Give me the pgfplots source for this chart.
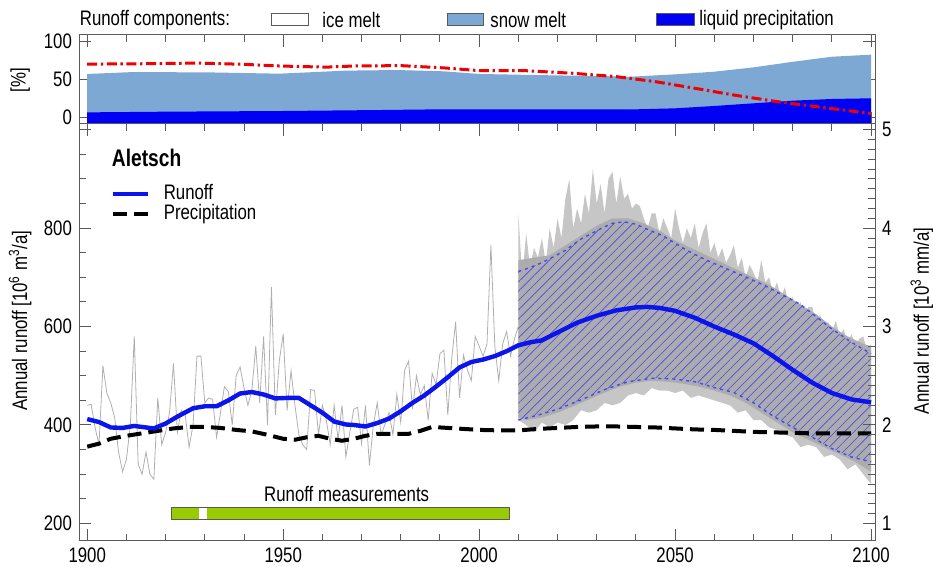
\documentclass[border=0pt]{standalone}
\usepackage{fontspec}
\setmainfont{Liberation Sans}[FakeStretch=0.8]
\usepackage{pgfplots}
\pgfplotsset{compat=1.18}
\usetikzlibrary{patterns.meta}

\definecolor{axcol}{RGB}{90,90,90}
\definecolor{snowblue}{RGB}{125,168,212}
\definecolor{liqblue}{RGB}{0,0,245}
\definecolor{redline}{RGB}{240,0,0}
\definecolor{runblue}{RGB}{10,20,235}
\definecolor{hatchblue}{RGB}{70,70,255}
\definecolor{mgreen}{RGB}{153,204,0}
\definecolor{ensout}{RGB}{198,198,198}
\definecolor{ensin}{RGB}{172,172,172}
\definecolor{histgray}{RGB}{175,175,175}

\pgfplotsset{
  base/.style={
    scale only axis, width=398pt, xmin=1897.9, xmax=2101,
    axis line style={axcol, line width=0.5pt},
    tick style={axcol, line width=0.5pt},
    major tick length=6pt, minor tick length=3.5pt, tick align=inside,
    font=\fontsize{10.5}{12}\selectfont,
    /pgf/number format/assume math mode=true,
    /pgf/number format/set thousands separator={},
    xtick={1900,1950,...,2100}, minor x tick num=4,
  },
  runoffline/.style={runblue, line width=2.2pt},
  precline/.style={black, line width=2pt, dash pattern=on 7pt off 3.5pt},
}

\begin{document}
\begin{tikzpicture}
\path[use as bounding box] (0,0) rectangle (466.5pt,283.5pt);

% top panel: runoff components
\begin{axis}[base, at={(39.5pt,221.5pt)}, anchor=south west, height=44.5pt,
  ymin=-8.8, ymax=108.3, ytick={0,50,100}, ytick pos=both, yticklabel pos=left,
  xticklabels={},
  ylabel={[\%]}, ylabel style={at={(axis description cs:-0.074,0.494)}, anchor=center}]
  % snow melt (top of snow melt share, measured from 0)
  \addplot[fill=snowblue, draw=none] coordinates {
    (1900,-8.8) (1900,57) (1912,59.6) (1932,59) (1949,57.4) (1966,61.4) (1979,62.2)
    (1991,60.5) (2000,57) (2019,55.2) (2039,53.5) (2050,56.5) (2060,60) (2070,65.7)
    (2080,73) (2090,79.7) (2100,82.4) (2100,-8.8)} -- cycle;
  % liquid precipitation
  \addplot[fill=liqblue, draw=none] coordinates {
    (1900,-8.8) (1900,6.5) (1920,7.4) (1950,8.3) (1975,9.6) (1990,10.5) (2040,10.5)
    (2050,11.8) (2060,14.9) (2070,18.4) (2080,21.9) (2090,24.1) (2100,25) (2100,-8.8)} -- cycle;
  % red dash-dot line
  \addplot[redline, line width=1.5pt, dash pattern=on 5pt off 1.8pt on 1.2pt off 1.8pt] coordinates {
    (1900,70) (1915,70.5) (1928,71.4) (1940,69.7) (1949,67.5) (1961,66) (1968,67.5)
    (1980,68) (1991,65) (2000,61.4) (2012,61.3) (2024,57.9) (2035,53.5) (2045,46.9)
    (2055,38.2) (2065,29.3) (2075,21.4) (2086,14) (2100,5)};
\end{axis}

% main panel
\begin{axis}[base, at={(39.5pt,13pt)}, anchor=south west, height=208.5pt,
  ymin=164.2, ymax=1011.8, ytick={200,400,600,800,1000}, yticklabels={200,400,600,800,{}},
  minor y tick num=3, ytick pos=left, xticklabel pos=bottom,
  ylabel={Annual runoff [10\textsuperscript{6} m\textsuperscript{3}/a]},
  ylabel style={at={(axis description cs:-0.074,0.528)}, anchor=center},
  legend cell align=left,
  legend image code/.code={\draw[#1] (0pt,0pt) -- (17.5pt,0pt);},
  legend style={at={(axis description cs:0.039,0.854)}, anchor=north west,
    draw=none, fill=none, inner sep=0pt, row sep=1.5pt,
    nodes={inner sep=0pt, text height=7pt, text depth=1.5pt},
    /tikz/every odd column/.style={column sep=7pt}},
  ]
  % observed / reconstructed annual runoff
  \addplot[histgray, line width=0.4pt, forget plot] coordinates {
    (1900,440) (1901,442) (1902,395) (1903,360) (1904,520) (1905,465) (1906,445) (1907,415)
    (1908,345) (1909,305) (1910,330) (1911,400) (1912,580) (1913,320) (1914,300) (1915,345)
    (1916,300) (1917,290) (1918,455) (1919,360) (1920,385) (1921,425) (1922,525) (1923,385)
    (1924,430) (1925,420) (1926,355) (1927,400) (1928,540) (1929,540) (1930,445) (1931,455)
    (1932,452) (1933,375) (1934,425) (1935,478) (1936,468) (1937,400) (1938,500) (1939,518)
    (1940,475) (1941,440) (1942,470) (1943,560) (1944,445) (1945,580) (1946,400) (1947,680)
    (1948,420) (1949,530) (1950,585) (1951,430) (1952,510) (1953,440) (1954,380) (1955,360)
    (1956,350) (1957,472) (1958,470) (1959,380) (1960,440) (1961,410) (1962,360) (1963,440)
    (1964,370) (1965,440) (1966,335) (1967,385) (1968,432) (1969,436) (1970,362) (1971,440)
    (1972,318) (1973,400) (1974,445) (1975,380) (1976,402) (1977,425) (1978,380) (1979,462)
    (1980,405) (1981,512) (1982,530) (1983,432) (1984,500) (1985,462) (1986,480) (1987,410)
    (1988,505) (1989,482) (1990,545) (1991,552) (1992,420) (1993,535) (1994,610) (1995,455)
    (1996,542) (1997,512) (1998,490) (1999,580) (2000,560) (2001,540) (2002,565) (2003,765)
    (2004,560) (2005,490) (2006,565) (2007,590) (2008,540) (2009,575) (2010,600)};
  % ensemble of projections: outer envelope
  \addplot[fill=ensout, draw=none, forget plot] coordinates {
    (2010,830) (2011,700) (2012,790) (2013,720) (2014,760) (2015,740) (2016,780) (2017,730)
    (2018,800) (2019,760) (2020,820) (2021,780) (2022,860) (2023,900) (2024,800) (2025,840)
    (2026,810) (2027,870) (2028,830) (2029,920) (2030,850) (2031,890) (2032,830) (2033,900)
    (2034,915) (2035,850) (2036,905) (2037,860) (2038,870) (2039,840) (2040,850) (2041,845)
    (2042,820) (2043,800) (2044,830) (2045,830) (2046,790) (2047,820) (2048,800) (2049,780)
    (2050,840) (2051,800) (2052,770) (2053,800) (2054,780) (2055,810) (2056,760) (2057,790)
    (2058,810) (2059,750) (2060,770) (2061,740) (2062,760) (2063,730) (2064,745) (2065,765)
    (2066,720) (2067,740) (2068,700) (2069,725) (2070,710) (2071,690) (2072,735) (2073,690)
    (2074,700) (2075,670) (2076,690) (2077,660) (2078,680) (2079,645) (2080,660) (2081,630)
    (2082,650) (2083,620) (2084,640) (2085,640) (2086,600) (2087,625) (2088,595) (2089,610)
    (2090,590) (2091,612) (2092,580) (2093,595) (2094,565) (2095,585) (2096,560) (2097,575)
    (2098,580) (2099,550) (2100,565)
    (2100,280) (2098,300) (2096,320) (2094,310) (2092,330) (2090,340) (2088,335) (2086,355)
    (2084,360) (2082,355) (2080,375) (2078,380) (2076,390) (2074,395) (2072,410) (2070,410)
    (2068,430) (2066,425) (2064,440) (2062,445) (2060,450) (2058,455) (2056,460) (2054,455)
    (2052,470) (2050,465) (2048,470) (2046,470) (2044,475) (2042,460) (2040,465) (2038,460)
    (2036,445) (2034,440) (2032,445) (2030,430) (2028,425) (2026,430) (2024,410) (2022,400)
    (2020,405) (2018,395) (2016,405) (2014,385) (2012,400) (2010,410)} -- cycle;
  % ensemble: dense core
  \addplot[fill=ensin, draw=none, forget plot] coordinates {
    (2010,735) (2014,740) (2018,745) (2022,765) (2026,785) (2030,805) (2034,820) (2038,820)
    (2042,810) (2046,795) (2050,775) (2054,760) (2058,745) (2062,730) (2066,715) (2070,700)
    (2074,685) (2078,665) (2082,645) (2086,625) (2090,600) (2094,580) (2098,565) (2100,560)
    (2100,305) (2096,325) (2092,340) (2088,355) (2084,370) (2080,385) (2076,405) (2072,425)
    (2068,445) (2064,460) (2060,470) (2056,478) (2052,484) (2048,488) (2044,490) (2040,486)
    (2036,478) (2032,466) (2028,452) (2024,438) (2020,425) (2016,415) (2012,410) (2010,415)} -- cycle;
  % uncertainty band (hatched)
  \addplot[draw=none, pattern={Lines[angle=45,distance=3.3pt,line width=0.3pt]},
    pattern color=hatchblue, forget plot] coordinates {
    (2010,712) (2013,720) (2016,730) (2019,742) (2022,755) (2026,778) (2031,799) (2034,810)
    (2037,813) (2040,808) (2042,801) (2047,784) (2053,755) (2058,735) (2063,718) (2068,701)
    (2073,683) (2078,662) (2082,645) (2086,620) (2090,595) (2095,568) (2100,545)
    (2100,325) (2095,335) (2090,352) (2085,375) (2080,395) (2075,418) (2070,445) (2065,466)
    (2060,476) (2055,488) (2049,494) (2044,495) (2038,488) (2032,472) (2026,451) (2020,432)
    (2015,420) (2010,410)} -- cycle;
  \addplot[hatchblue, line width=0.7pt, dash pattern=on 1.5pt off 2pt, forget plot] coordinates {
    (2010,712) (2013,720) (2016,730) (2019,742) (2022,755) (2026,778) (2031,799) (2034,810)
    (2037,813) (2040,808) (2042,801) (2047,784) (2053,755) (2058,735) (2063,718) (2068,701)
    (2073,683) (2078,662) (2082,645) (2086,620) (2090,595) (2095,568) (2100,545)};
  \addplot[hatchblue, line width=0.7pt, dash pattern=on 1.5pt off 2pt, forget plot] coordinates {
    (2010,410) (2015,420) (2020,432) (2026,451) (2032,472) (2038,488) (2044,495) (2049,494)
    (2055,488) (2060,476) (2065,466) (2070,445) (2075,418) (2080,395) (2085,375) (2090,352)
    (2095,335) (2100,325)};
  % precipitation (right axis units x 200)
  \addplot[precline, forget plot] coordinates {
    (1900,356) (1903,362) (1906,372) (1910,378) (1914,383) (1918,388) (1922,393) (1926,396)
    (1930,396) (1934,394) (1938,390) (1942,387) (1946,380) (1950,372) (1953,370) (1956,375)
    (1959,378) (1962,372) (1965,368) (1968,372) (1971,378) (1974,382) (1978,382) (1982,382)
    (1985,388) (1988,396) (1992,394) (1996,392) (2000,390) (2005,389) (2010,389) (2015,392)
    (2020,394) (2025,396) (2030,397) (2035,397) (2040,396) (2045,395) (2050,393) (2055,391)
    (2060,390) (2065,388) (2070,386) (2075,385) (2080,384) (2085,383) (2090,383) (2095,383)
    (2100,383)};
  % smoothed runoff
  \addplot[runoffline, forget plot] coordinates {
    (1900,412) (1903,406) (1906,395) (1909,394) (1912,398) (1915,395) (1917,393) (1920,403)
    (1923,417) (1927,434) (1930,438) (1933,438) (1936,450) (1939,464) (1942,467) (1945,462)
    (1948,454) (1951,455) (1954,455) (1957,440) (1960,425) (1963,407) (1966,401) (1968,400)
    (1971,397) (1974,404) (1977,413) (1980,428) (1983,445) (1986,460) (1989,478) (1992,497)
    (1995,517) (1998,528) (2001,533) (2004,540) (2007,550) (2010,562) (2013,568) (2016,572)
    (2020,588) (2025,608) (2030,622) (2035,633) (2040,639) (2043,640) (2046,638) (2050,632)
    (2055,618) (2060,600) (2065,584) (2070,566) (2075,540) (2080,512) (2085,486) (2090,465)
    (2095,452) (2100,446)};
  % runoff measurement period
  \addplot[fill=mgreen, draw=axcol, line width=0.5pt, forget plot] coordinates {
    (1921.6,207) (2007.7,207) (2007.7,232) (1921.6,232)} -- cycle;
  \addplot[fill=white, draw=none, forget plot] coordinates {
    (1928.6,208) (1930.5,208) (1930.5,231) (1928.6,231)} -- cycle;
  \node[font=\fontsize{10.5}{12}\selectfont] at (axis cs:1966.2,260) {Runoff measurements};
  \node[anchor=west, inner sep=0pt, font=\bfseries\fontsize{12}{14}\selectfont] at (axis cs:1906.2,942) {Aletsch};
  \addlegendimage{runoffline}
  \addlegendentry{Runoff}
  \addlegendimage{precline}
  \addlegendentry{Precipitation}
\end{axis}

% right axis of main panel
\begin{axis}[base, at={(39.5pt,13pt)}, anchor=south west, height=208.5pt,
  ymin=0.821, ymax=5.059, axis x line=none, axis y line*=right,
  ytick={1,2,3,4,5}, minor y tick num=9,
  ylabel={Annual runoff [10\textsuperscript{3} mm/a]},
  ylabel style={at={(axis description cs:1.059,0.528)}, anchor=center}]
\end{axis}

% legend of the runoff components
\begin{scope}[font=\fontsize{10.5}{12}\selectfont]
  \node[anchor=west, inner sep=0pt] at (39.75pt,273.5pt) {Runoff components:};
  \draw[axcol, fill=white, line width=0.5pt] (135.5pt,270.5pt) rectangle (154pt,276.5pt);
  \node[anchor=west, inner sep=0pt] at (161pt,273.5pt) {ice melt};
  \draw[axcol, fill=snowblue, line width=0.5pt] (223.5pt,270.5pt) rectangle (241.5pt,276.5pt);
  \node[anchor=west, inner sep=0pt] at (245pt,273.5pt) {snow melt};
  \draw[axcol, fill=liqblue, line width=0.5pt] (328pt,270.5pt) rectangle (347pt,276.5pt);
  \node[anchor=west, inner sep=0pt] at (349.5pt,273.5pt) {liquid precipitation};
\end{scope}
\end{tikzpicture}
\end{document}
